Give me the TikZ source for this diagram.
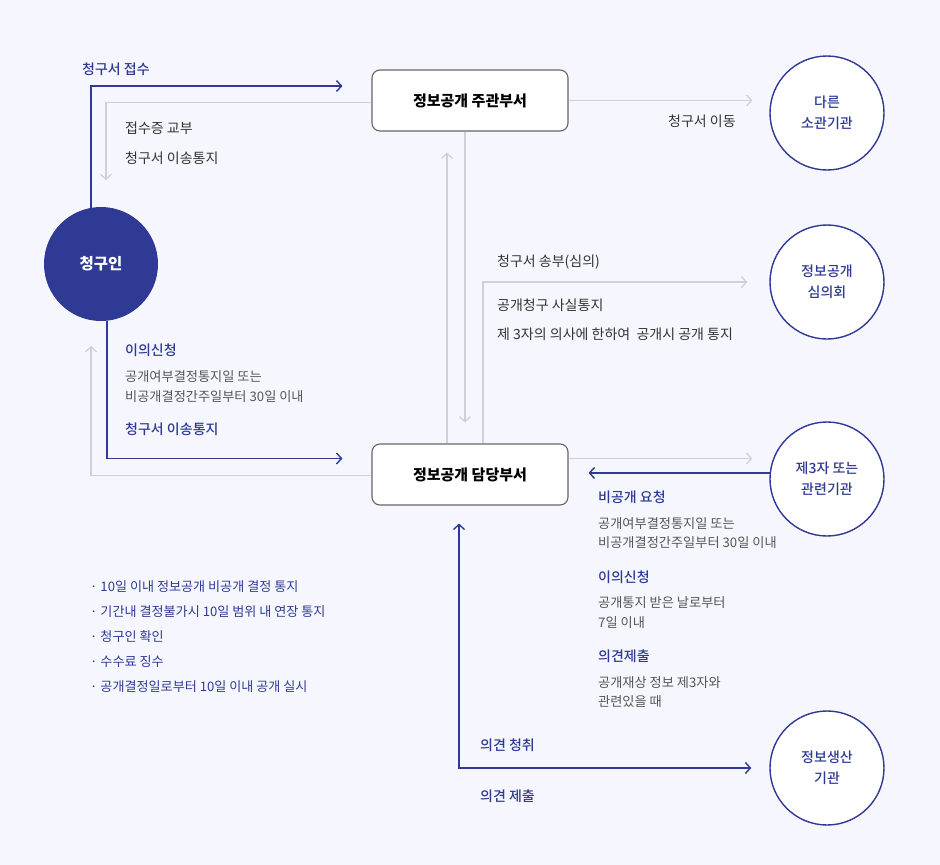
\documentclass[tikz,border=0pt]{standalone}
\usepackage{fontspec}
\setmainfont{Noto Sans CJK KR}
\newfontfamily\krmed{Noto Sans CJK KR Medium}
\usetikzlibrary{arrows.meta,positioning}
\definecolor{navy}{HTML}{2E3A94}
\definecolor{lineg}{HTML}{CFD0D6}
\definecolor{txtg}{HTML}{555555}
\definecolor{txtd}{HTML}{333333}
\definecolor{bgc}{HTML}{F6F7FE}

\begin{document}
\begin{tikzpicture}[x=1pt,y=-1pt,
dept/.style={
rectangle,
draw=black!60,
fill=white,
line width=1.1pt,
rounded corners=8pt,
minimum width=196pt,
minimum height=61pt,
font=\fontsize{15}{17}\selectfont\bfseries
},
org/.style={circle,draw=navy,fill=white,line width=1.4pt,minimum size=114pt,inner sep=0pt,
align=center,text=navy,font=\fontsize{14}{21}\selectfont\krmed},
who/.style={circle,fill=navy,minimum size=114pt,inner sep=0pt,text=white,
font=\fontsize{15.5}{17}\selectfont\bfseries},
head/.style={anchor=west,inner sep=0pt,text=navy,font=\fontsize{14}{16}\selectfont\krmed},
note/.style={anchor=west,inner sep=0pt,text=txtd,font=\fontsize{14}{16}\selectfont},
sub/.style={anchor=west,inner sep=0pt,align=left,text=txtg,font=\fontsize{13.2}{19.5}\selectfont},
grayto/.style={-{Straight Barb[length=5pt,width=11pt]},draw=lineg,line width=1.2pt},
blueto/.style={-{Straight Barb[length=5pt,width=11pt]},draw=navy,line width=1.4pt},
blueboth/.style={{Straight Barb[length=5pt,width=11pt]}-{Straight Barb[length=5pt,width=11pt]},draw=navy,line width=1.4pt}
]

\fill[bgc] (0,0) rectangle (940,865);
\useasboundingbox (0,0) rectangle (940,865);

\node (ju) [dept] at (470,100.5) {정보공개 주관부서};
\node (dam) [dept,below of=ju,node distance=374pt] {정보공개 담당부서};
\node (req) [who] at (101,264) {청구인};
\node (other) [org] at (827,113) {다른\\소관기관};
\node (comm) [org,below of=other,node distance=169pt] {정보공개\\심의회};
\node (third) [org,below of=comm,node distance=197pt] {제3자 또는\\관련기관};
\node (prod) [org,below of=third,node distance=289pt] {정보생산\\기관};

\coordinate (back1) at (106,180);
\coordinate (back2) at (91,346);

\draw[blueto,shorten >=29pt] (req.100) |- ([yshift=14.5pt]ju.west);
\draw[grayto] ([yshift=-2pt]ju.west) -| (back1);
\draw[grayto,shorten >=17pt] (ju.east) -- (ju.east -| other.west);
\draw[grayto,shorten >=21pt] ([xshift=-23pt]dam.north) -- ([xshift=-23pt]ju.south);
\draw[grayto,shorten >=21pt] ([xshift=-5pt]ju.south) -- ([xshift=-5pt]dam.north);
\draw[grayto,shorten >=22pt] ([xshift=13pt]dam.north) |- (comm.west);
\draw[blueto,shorten >=29pt] (req.-84) |- ([yshift=16pt]dam.west);
\draw[grayto] ([yshift=-1pt]dam.west) -| (back2);
\draw[grayto,shorten >=17pt] ([yshift=16pt]dam.east) -- ([yshift=16pt]dam.east -| third.west);
\draw[blueto,shorten >=20pt] (third.174) -- (third.174 -| dam.east);
\draw[blueboth,shorten <=18pt,shorten >=18pt] ([xshift=-11pt]dam.south) |- (prod.west);

\node (recv) [head] at (82,69) {청구서 접수};
\node (rcpt) [note] at (125,128) {접수증 교부};
\node (xfer) [note] at (125,158) {청구서 이송통지};
\node (move) [note] at (668,121) {청구서 이동};
\node (send) [note] at (497,262) {청구서 송부(심의)};
\node (fact) [note] at (497,305) {공개청구 사실통지};
\node (will) [note] at (497,334) {제 3자의 의사에 한하여\ \ 공개시 공개 통지};
\node (obj) [head] at (125,350) {이의신청};
\node (objt) [sub] at (125,386.5) {공개여부결정통지일 또는\\비공개결정간주일부터 30일 이내};
\node (xfer2) [head] at (125,429) {청구서 이송통지};
\node (nonp) [head] at (598,497) {비공개 요청};
\node (nonpt) [sub] at (598,533) {공개여부결정통지일 또는\\비공개결정간주일부터 30일 이내};
\node (obj2) [head] at (598,577) {이의신청};
\node (obj2t) [sub] at (598,612.5) {공개통지 받은 날로부터\\7일 이내};
\node (opin) [head] at (598,656) {의견제출};
\node (opint) [sub] at (598,692) {공개재상 정보 제3자와\\관련있을 때};
\node (hear) [head] at (480,745) {의견 청취};
\node (give) [head] at (480,796) {의견 제출};
\node (todo) [sub,text=navy,font=\fontsize{13.1}{25}\selectfont] at (90,637) {· 10일 이내 정보공개 비공개 결정 통지\\· 기간내 결정불가시 10일 범위 내 연장 통지\\· 청구인 확인\\· 수수료 징수\\· 공개결정일로부터 10일 이내 공개 실시};
\end{tikzpicture}
\end{document}
